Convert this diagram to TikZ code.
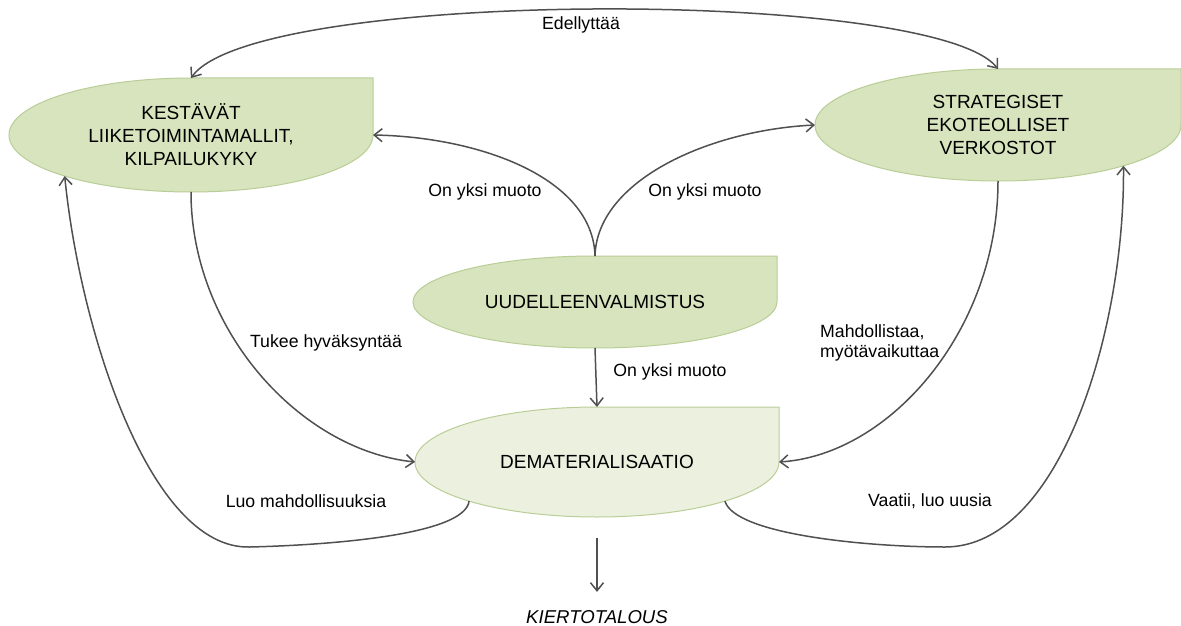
\documentclass[tikz,border=0pt]{standalone}
\usepackage{fontspec}
\setmainfont{Liberation Sans}
\usetikzlibrary{arrows.meta,shapes.geometric}
\definecolor{lg}{HTML}{D7E4BD}
\definecolor{llg}{HTML}{EBF1DE}
\definecolor{bd}{HTML}{B9CD96}
\definecolor{ln}{HTML}{505050}
% cx, cy, a, b, fill
\newcommand{\leafshape}[5]{%
  \path[draw=bd, line width=1pt, fill=#5]
    (#1,#2+#4) -- (#1+#3,#2+#4) -- (#1+#3,#2)
    arc[start angle=0, end angle=-180, x radius=#3pt, y radius=#4pt]
    arc[start angle=180, end angle=90, x radius=#3pt, y radius=#4pt] -- cycle;}
\begin{document}
\begin{tikzpicture}[x=1pt,y=1pt,
  >={Straight Barb[length=8pt,width=13pt]},
  conn/.style={draw=ln, line width=1.5pt},
  shapetext/.style={ellipse, inner sep=0pt, outer sep=0pt, align=center,
    font=\fontsize{19}{23}\selectfont},
  lbl/.style={font=\fontsize{17.7}{20}\selectfont, inner sep=1pt}]
\useasboundingbox (0,0) rectangle (1181,-626);

% shapes
\leafshape{191}{-135}{182}{57}{lg}
\leafshape{998}{-125}{183}{56}{lg}
\leafshape{595}{-302}{182}{46}{lg}
\leafshape{597}{-462}{182}{55}{llg}

\node[shapetext, minimum width=364pt, minimum height=114pt] (kes) at (191,-135)
  {KESTÄVÄT\\LIIKETOIMINTAMALLIT,\\KILPAILUKYKY};
\node[shapetext, minimum width=366pt, minimum height=112pt] (str) at (998,-125)
  {STRATEGISET\\EKOTEOLLISET\\VERKOSTOT};
\node[shapetext, minimum width=364pt, minimum height=92pt] (uud) at (595,-302)
  {UUDELLEENVALMISTUS};
\node[shapetext, minimum width=364pt, minimum height=110pt] (dem) at (597,-462)
  {DEMATERIALISAATIO};
\node[font=\itshape\fontsize{18.6}{22}\selectfont] (kt) at (597,-617) {KIERTOTALOUS};
\coordinate (kstart) at (597,-538);

% connectors
\draw[conn, <->] (kes.north) .. controls (255,12) and (935,12) .. (str.north);
\draw[conn, ->] (uud.north) .. controls (593,-178) and (480,-137) .. (kes.east);
\draw[conn, ->] (uud.north) .. controls (597,-180) and (710,-130) .. (str.west);
\draw[conn, ->] (uud.south) -- (dem.north);
\draw[conn, ->] (kes.south) .. controls (191,-330) and (300,-450) .. (dem.west);
\draw[conn, ->] (str.south) .. controls (998,-330) and (890,-455) .. (dem.east);
\draw[conn, ->] (dem.197) .. controls (465,-535) and (330,-545) .. (250,-547)
  .. controls (150,-550) and (80,-330) .. (kes.198);
\draw[conn, ->] (dem.343) .. controls (735,-535) and (870,-547) .. (945,-547)
  .. controls (1060,-547) and (1125,-330) .. (str.342.8);
\draw[conn, ->, shorten >=15pt] (kstart) -- (kt.north);

% labels
\node[lbl] (l1) at (581,-25) {Edellyttää};
\node[lbl] (l2) at (485,-192) {On yksi muoto};
\node[lbl] (l3) at (705,-192) {On yksi muoto};
\node[lbl] (l4) at (670,-372) {On yksi muoto};
\node[lbl] (l5) at (326,-343) {Tukee hyväksyntää};
\node[lbl, anchor=west, align=left] (l6) at (819,-343) {Mahdollistaa,\\myötävaikuttaa};
\node[lbl] (l7) at (306,-501) {Luo mahdollisuuksia};
\node[lbl] (l8) at (930,-501) {Vaatii, luo uusia};
\end{tikzpicture}
\end{document}
